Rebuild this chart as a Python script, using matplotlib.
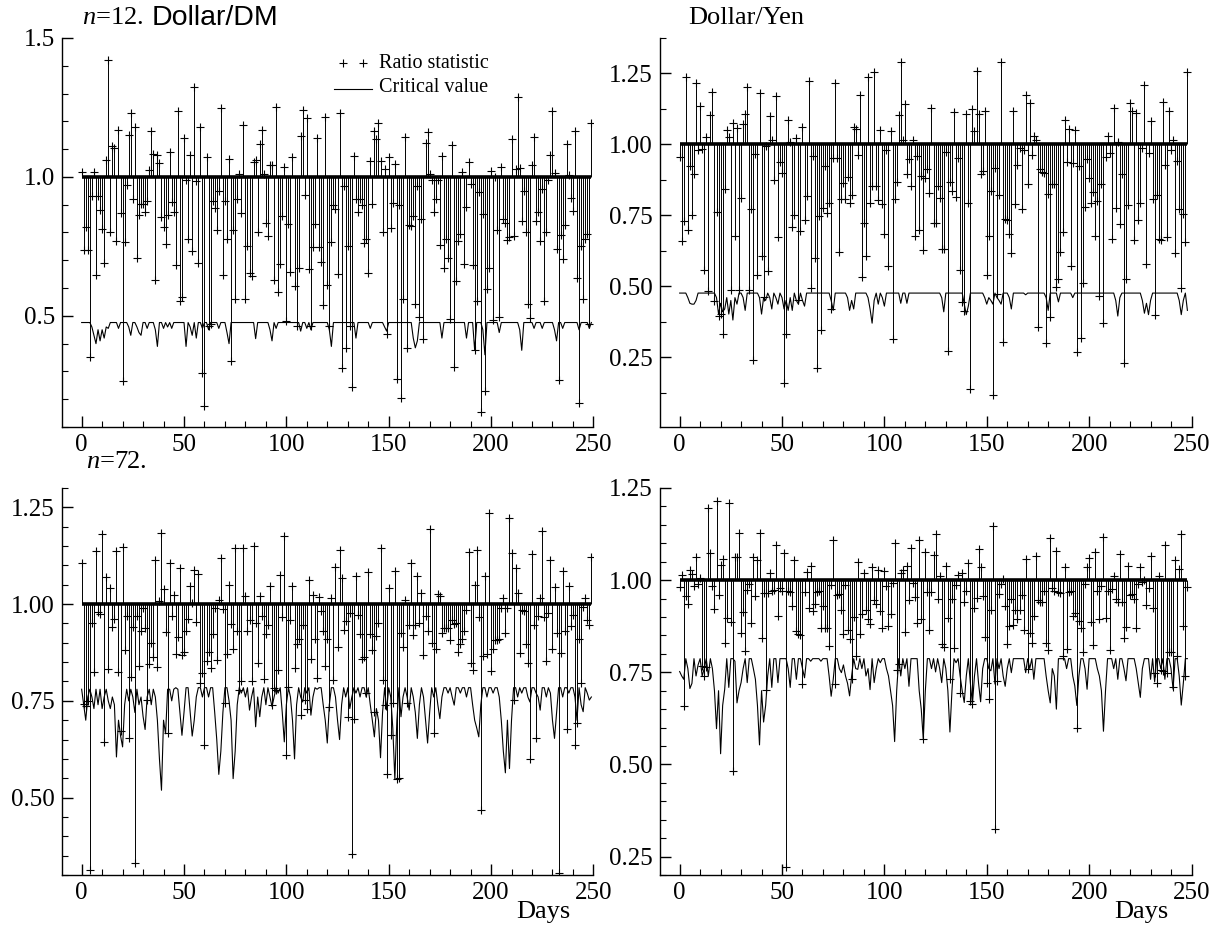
import numpy as np
import matplotlib
matplotlib.use('Agg')
import matplotlib.pyplot as plt
from matplotlib.ticker import MultipleLocator, FormatStrFormatter

plt.rcParams['font.family'] = ['Liberation Serif', 'DejaVu Serif']
plt.rcParams['mathtext.fontset'] = 'custom'
plt.rcParams['mathtext.it'] = 'Liberation Serif:italic'
plt.rcParams['mathtext.rm'] = 'Liberation Serif'

# ---------------- data ----------------
x_ticks = [0, 50, 100, 150, 200, 250]

ratio_dm_12 = [
    1.018, .736, .82, .736, .352, .932, 1.016, .646, .932, .88,
    .812, .692, 1.062, 1.422, .80, 1.11, 1.105, .77, 1.17, .87,
    .266, .766, .97, 1.15, 1.23, .92, 1.18, .71, .862, .904,
    .904, .874, .912, 1.024, 1.165, 1.084, .63, 1.078, 1.05, .854,
    .82, .757, .862, 1.088, .908, .874, .682, 1.236, .553, .568,
    1.14, .988, .776, 1.08, .733, 1.324, .984, .692, 1.18, .293,
    .175, 1.072, .463, .469, .912, .888, .808, .95, 1.248, .646,
    .914, .778, 1.066, .338, .808, .559, .92, 1.012, .87, 1.188,
    .559, .75, .655, .644, 1.054, 1.06, .80, 1.118, 1.168, 1.01,
    .835, .787, 1.042, 1.042, .628, 1.25, .586, .686, .86, 1.036,
    .482, .83, .658, 1.072, .607, .464, .674, 1.146, 1.24, .934,
    1.213, .668, .464, .748, .832, 1.14, .748, .694, .538, 1.216,
    .61, .463, .766, .90, .884, .65, 1.23, .314, .968, .383,
    .75, .464, .245, 1.077, .922, .874, .922, .898, .764, .776,
    .656, 1.058, .902, 1.164, 1.135, 1.194, 1.058, .80, 1.03, .436,
    1.07, .817, .906, 1.046, .272, .898, .203, .559, 1.144, .383,
    .828, .822, .859, .544, .966, .496, .85, .418, 1.122, 1.162,
    1.01, .99, .874, .922, .99, .754, 1.074, .674, .775, .71,
    .49, 1.114, .317, .626, .769, .793, 1.018, .686, .89, 1.052,
    .974, .682, .376, .554, .944, .155, .868, .23, .595, .674,
    1.022, .484, 1.0, .808, .496, 1.034, .847, .835, .772, .784,
    1.135, .788, 1.03, 1.288, 1.032, .842, .95, .80, .542, .494,
    1.044, 1.144, .84, .874, .77, .958, .554, .80, .988, 1.078,
    1.236, 1.014, .742, .269, .79, .703, .826, 1.118, 1.008, .924,
    .876, 1.165, .637, .188, .75, .562, .778, .793, .47, 1.194,
]
crit_dm_12 = [
    .476, .476, .476, .476, .476, .46, .43, .40, .45, .41,
    .45, .42, .46, .455, .476, .476, .476, .476, .455, .476,
    .476, .476, .476, .46, .43, .476, .476, .46, .44, .43,
    .476, .476, .455, .476, .476, .476, .45, .39, .476, .476,
    .455, .476, .46, .476, .455, .476, .476, .476, .476, .476,
    .476, .39, .476, .46, .43, .476, .42, .476, .476, .455,
    .476, .476, .45, .476, .476, .476, .476, .455, .476, .476,
    .476, .44, .40, .476, .476, .476, .476, .476, .476, .476,
    .476, .476, .476, .476, .476, .418, .476, .476, .476, .476,
    .476, .476, .45, .41, .476, .455, .476, .476, .476, .476,
    .476, .476, .476, .476, .476, .476, .476, .445, .476, .476,
    .455, .476, .45, .476, .476, .476, .476, .476, .476, .476,
    .476, .45, .39, .476, .476, .476, .476, .476, .476, .476,
    .476, .476, .476, .476, .42, .476, .476, .476, .476, .476,
    .476, .455, .476, .476, .476, .476, .476, .476, .46, .445,
    .476, .476, .476, .476, .476, .476, .476, .476, .476, .476,
    .476, .476, .42, .385, .41, .476, .476, .476, .476, .476,
    .476, .476, .476, .476, .476, .476, .42, .476, .476, .476,
    .476, .476, .476, .476, .476, .476, .476, .476, .42, .476,
    .476, .476, .376, .476, .476, .476, .45, .36, .476, .476,
    .476, .476, .476, .476, .44, .476, .476, .476, .476, .476,
    .476, .476, .476, .476, .45, .376, .476, .476, .476, .476,
    .476, .455, .476, .476, .476, .455, .476, .476, .476, .476,
    .476, .45, .41, .476, .476, .455, .476, .476, .476, .476,
    .476, .476, .476, .45, .476, .476, .476, .476, .455, .476,
]

ratio_yen_12 = [
    .954, .659, .729, 1.239, .699, .925, .75, .895, 1.216, .98,
    1.137, .983, .559, 1.027, .485, 1.104, 1.184, .449, .762, .396,
    .402, .331, .842, 1.051, 1.027, .487, 1.077, .676, 1.057, .487,
    .812, 1.071, 1.106, 1.202, .487, .774, .239, .965, .538, 1.18,
    .608, .463, .995, .553, 1.101, 1.015, .874, 1.169, .673, .939,
    .90, .16, .331, 1.086, 1.009, .709, .75, 1.021, .452, .695,
    1.062, .735, .818, 1.225, .494, .959, .60, .213, .746, .346,
    .777, .923, .758, .794, .42, .953, 1.218, .953, .62, .807,
    .864, .809, .886, .794, .821, 1.06, 1.054, .962, 1.175, .532,
    .724, .606, 1.237, .795, .854, 1.255, .854, .803, 1.051, .791,
    .683, .98, .573, 1.047, .314, .809, .866, 1.104, 1.29, 1.015,
    1.142, .894, .948, .853, 1.015, .677, .96, .699, .889, .629,
    .88, .915, .827, 1.13, .723, .723, .854, .811, .63, .632,
    .974, .272, .866, .835, 1.113, .815, .953, .558, .443, .413,
    1.106, .795, .137, 1.125, 1.047, 1.257, 1.106, .895, .906, 1.119,
    .538, .677, .836, .116, .917, .473, .821, 1.292, .302, .738,
    .735, .683, .617, 1.118, .791, .929, .989, .774, .98, 1.175,
    .86, 1.145, .962, 1.03, 1.015, .357, .912, .903, .90, .30,
    .824, .39, .862, .862, .496, .526, .62, .693, 1.086, .939,
    1.054, .573, .935, 1.051, .267, .923, .317, .512, .779, .95,
    .88, .795, .833, .677, .801, .467, .862, .37, .956, 1.03,
    .971, .667, 1.127, .776, 1.007, .72, .897, .229, .526, .785,
    1.145, 1.116, .664, 1.11, .732, .794, .986, 1.21, .579, .971,
    1.084, .809, .40, .821, .667, .662, 1.151, .927, .673, 1.116,
    .982, 1.015, .617, .942, .771, .494, .756, .656, 1.255,
]
crit_yen_12 = [
    .476, .476, .476, .476, .46, .44, .437, .437, .45, .476,
    .476, .476, .476, .476, .476, .476, .476, .476, .46, .402,
    .44, .41, .42, .46, .402, .45, .381, .46, .437, .476,
    .476, .46, .415, .476, .476, .476, .476, .476, .476, .46,
    .402, .46, .45, .476, .46, .42, .476, .46, .437, .476,
    .46, .42, .45, .415, .46, .415, .476, .45, .437, .476,
    .45, .43, .476, .476, .476, .476, .476, .476, .476, .476,
    .476, .476, .476, .476, .45, .415, .476, .476, .476, .476,
    .476, .476, .46, .415, .45, .42, .476, .476, .476, .476,
    .476, .476, .46, .42, .37, .45, .476, .437, .476, .46,
    .43, .476, .476, .476, .476, .476, .476, .476, .44, .476,
    .476, .44, .476, .476, .476, .476, .476, .476, .476, .476,
    .476, .476, .476, .476, .476, .476, .476, .476, .46, .41,
    .476, .476, .476, .476, .476, .476, .476, .476, .476, .437,
    .40, .43, .476, .476, .476, .476, .476, .476, .476, .46,
    .437, .46, .45, .437, .476, .46, .45, .437, .476, .476,
    .476, .46, .42, .476, .476, .476, .476, .476, .476, .47,
    .476, .476, .476, .476, .476, .476, .476, .476, .476, .46,
    .415, .476, .476, .476, .476, .445, .476, .476, .476, .476,
    .476, .476, .46, .476, .476, .476, .476, .476, .476, .476,
    .476, .476, .476, .476, .476, .476, .476, .476, .476, .476,
    .476, .476, .476, .45, .395, .46, .476, .476, .476, .476,
    .476, .476, .476, .476, .476, .476, .45, .405, .44, .40,
    .45, .476, .476, .476, .476, .476, .476, .476, .476, .476,
    .476, .476, .476, .476, .45, .40, .45, .476, .415,
]

ratio_dm_72 = [
    1.107, .741, .736, .75, .314, .95, .825, 1.137, .98, .974,
    1.181, .644, 1.071, .832, 1.041, .941, .961, 1.137, .825, .672,
    1.148, .881, .97, .653, .812, .941, .332, .969, .841, .931,
    .99, .937, .753, .844, .90, .864, 1.114, .838, 1.009, 1.184,
    1.038, .928, .667, 1.107, .97, 1.023, .872, .916, 1.092, .868,
    .875, .93, .961, 1.047, 1.003, 1.088, .954, 1.079, .797, .823,
    .635, .853, .877, .834, .924, .989, .855, 1.01, 1.12, .987,
    .745, .872, 1.049, .948, .885, 1.144, .93, .778, .80, 1.144,
    1.021, .93, .96, .80, 1.15, .95, .849, 1.021, .97, .806,
    .924, .947, 1.047, .739, .784, .778, .829, 1.075, .967, 1.176,
    .609, .786, .96, 1.047, .835, .896, .911, .713, .947, .753,
    .73, 1.062, .859, 1.023, .911, .809, 1.019, .982, .93, .841,
    .911, .734, 1.016, .803, 1.095, .89, 1.14, 1.068, .934, .957,
    .709, .978, .355, .704, 1.072, .972, .924, .857, .864, .769,
    1.084, .922, .881, .722, .917, .95, 1.146, .805, .739, .562,
    1.041, .661, .745, 1.085, .549, .55, .926, .888, 1.01, .745,
    .946, 1.107, .92, .946, 1.073, .95, 1.028, .868, .97, .931,
    1.193, .90, .667, .883, 1.025, 1.021, .926, .937, .937, .937,
    .907, .96, .948, .952, .875, .898, .909, .931, .984, 1.135,
    .848, .831, 1.049, 1.141, .966, .469, .866, 1.072, .87, 1.236,
    .828, .884, .907, .907, .911, .989, 1.016, .926, .99, 1.222,
    1.131, .752, 1.092, 1.029, .874, .984, .983, .897, .848, .601,
    1.129, .947, .653, .97, 1.016, 1.189, .967, .853, .978, 1.114,
    .885, 1.043, .926, .305, .874, 1.085, .931, .678, 1.047, .944,
    .972, .635, .693, .909, .795, .993, 1.016, .96, .947, 1.121,
]
crit_dm_72 = [
    .78, .74, .70, .76, .78, .76, .73, .78, .74, .78,
    .73, .76, .78, .75, .73, .76, .74, .605, .70, .66,
    .631, .74, .78, .75, .78, .76, .72, .78, .74, .76,
    .71, .676, .76, .78, .74, .78, .76, .70, .60, .519,
    .70, .665, .78, .78, .75, .78, .784, .78, .72, .661,
    .72, .784, .784, .72, .659, .70, .76, .784, .784, .76,
    .784, .784, .76, .784, .784, .72, .65, .56, .62, .72,
    .784, .784, .75, .70, .549, .62, .74, .784, .77, .784,
    .76, .784, .726, .76, .784, .683, .76, .709, .76, .784,
    .74, .784, .76, .735, .76, .784, .77, .784, .72, .644,
    .74, .784, .76, .70, .60, .74, .784, .76, .747, .784,
    .77, .784, .713, .76, .784, .78, .784, .784, .74, .70,
    .641, .74, .784, .784, .76, .70, .65, .74, .784, .76,
    .784, .73, .76, .784, .77, .784, .76, .784, .784, .76,
    .784, .74, .70, .657, .73, .70, .603, .72, .784, .726,
    .784, .76, .68, .547, .70, .784, .709, .76, .784, .76,
    .726, .784, .76, .72, .653, .74, .784, .76, .70, .641,
    .72, .784, .76, .784, .74, .704, .76, .784, .784, .77,
    .784, .76, .739, .784, .784, .77, .784, .784, .76, .784,
    .784, .74, .70, .68, .657, .74, .784, .784, .76, .784,
    .784, .77, .784, .784, .76, .70, .62, .564, .70, .575,
    .70, .784, .784, .76, .784, .77, .784, .784, .76, .747,
    .784, .784, .77, .76, .726, .784, .784, .76, .784, .77,
    .70, .653, .72, .784, .784, .76, .784, .784, .77, .784,
    .784, .76, .70, .784, .74, .722, .784, .77, .752, .76,
]

ratio_yen_72 = [
    .981, 1.014, .659, .958, .935, 1.028, 1.017, .985, 1.062, .99,
    1.005, .767, .74, .763, 1.197, 1.073, .985, .922, 1.214, .96,
    1.041, 1.058, .83, .898, 1.209, .886, .482, 1.064, 1.064, 1.128,
    .857, .914, .808, .974, .99, .884, 1.064, .958, 1.055, 1.128,
    .844, .965, .703, .965, 1.019, .97, .974, 1.095, .904, .98,
    .971, 1.073, .221, .97, .969, .929, 1.055, .862, .853, .85,
    .718, .968, 1.022, .925, 1.039, .916, .936, .967, .97, .871,
    .93, .871, .871, .821, .987, 1.109, .718, .96, .963, .92,
    .855, .987, .864, .839, .731, .90, .794, 1.05, .853, .909,
    1.019, .92, .895, .88, 1.035, .947, .936, 1.028, .916, .871,
    1.025, .983, .875, .909, .992, 1.10, .757, .772, 1.019, 1.028,
    .859, 1.039, .945, 1.086, .992, .954, .884, 1.109, .895, .568,
    1.077, .967, .866, .967, 1.068, 1.125, .949, 1.01, .827, .819,
    1.039, .898, .731, .95, .817, .987, 1.014, .693, 1.019, .942,
    .971, 1.046, .671, .664, .925, .951, 1.084, 1.037, .958, .845,
    .721, .677, .92, 1.147, .324, .727, .962, .99, 1.004, .929,
    .826, .875, .95, .877, .918, .895, .92, .959, .864, 1.057,
    .76, .857, .83, .902, 1.066, .947, .942, .94, .97, .83,
    .81, 1.113, .978, .97, 1.08, .969, .965, .794, 1.035, .814,
    .969, .97, .904, .911, .598, .89, .869, .805, .99, 1.035,
    1.059, .886, .824, 1.077, .971, .895, .983, 1.118, .896, .971,
    .81, .976, 1.01, .949, .94, 1.071, .942, .842, .872, 1.039,
    .96, .962, .95, .871, .99, 1.037, .994, 1.0, .932, .98,
    1.066, .925, .747, .72, 1.01, .756, .754, 1.095, .749, .805,
    .805, .709, 1.055, .794, 1.03, 1.124, .875, .74, .981,
]
crit_yen_72 = [
    .752, .74, .731, .787, .76, .706, .72, .787, .74, .77,
    .787, .74, .76, .787, .74, .787, .76, .70, .597, .70,
    .529, .66, .704, .787, .709, .787, .787, .78, .667, .70,
    .722, .76, .787, .722, .787, .787, .76, .731, .66, .553,
    .70, .615, .66, .74, .787, .709, .787, .787, .722, .787,
    .787, .787, .787, .76, .709, .787, .787, .731, .787, .787,
    .76, .735, .787, .787, .78, .787, .787, .787, .787, .78,
    .787, .787, .787, .74, .685, .73, .787, .787, .76, .749,
    .77, .74, .72, .686, .74, .787, .76, .758, .787, .76,
    .787, .74, .76, .703, .787, .722, .76, .787, .776, .787,
    .787, .76, .74, .70, .66, .562, .70, .787, .74, .787,
    .76, .787, .712, .787, .787, .787, .787, .70, .65, .568,
    .70, .787, .787, .76, .787, .751, .787, .76, .722, .787,
    .76, .70, .588, .70, .787, .776, .787, .74, .70, .668,
    .74, .787, .72, .664, .74, .787, .72, .67, .76, .787,
    .787, .76, .754, .787, .718, .787, .76, .787, .74, .712,
    .76, .787, .749, .787, .787, .787, .787, .787, .787, .749,
    .787, .76, .787, .731, .787, .787, .787, .787, .787, .74,
    .70, .667, .76, .74, .65, .787, .787, .787, .787, .76,
    .787, .787, .74, .713, .66, .74, .787, .787, .76, .704,
    .787, .787, .787, .787, .76, .74, .70, .59, .70, .787,
    .787, .787, .76, .787, .731, .787, .787, .76, .727, .787,
    .787, .787, .787, .76, .72, .682, .76, .787, .787, .787,
    .731, .787, .724, .787, .787, .76, .787, .731, .787, .787,
    .76, .704, .787, .787, .74, .661, .72, .787, .787,
]

legend_labels = ['Ratio statistic', 'Critical value']

# ---------------- figure ----------------
W, H = 1218, 926
fig = plt.figure(figsize=(W / 100, H / 100), dpi=100)

def frac_box(l, t, r, b):
    return [l / W, 1 - b / H, (r - l) / W, (b - t) / H]

def fx(px):
    return px / W

def fy(py):
    return 1 - py / H

FS = 18

def draw(ax, ratio, crit, ylim, major, minor, fmt):
    x = np.arange(len(ratio))
    ax.vlines(x, 1.0, ratio, colors='k', lw=0.7)
    ax.plot(x, ratio, '+', color='k', ms=6, mew=0.8)
    ax.plot(np.arange(len(crit)), crit, '-', color='k', lw=0.8)
    ax.plot([x[0], x[-1]], [1.0, 1.0], '-', color='k', lw=2.6, solid_capstyle='butt')
    ax.set_xlim(-9.6, 250)
    ax.set_ylim(*ylim)
    ax.set_xticks(x_ticks)
    ax.xaxis.set_minor_locator(MultipleLocator(10))
    ax.yaxis.set_major_locator(MultipleLocator(major))
    ax.yaxis.set_minor_locator(MultipleLocator(minor))
    ax.yaxis.set_major_formatter(FormatStrFormatter(fmt))
    for s in ('top', 'right'):
        ax.spines[s].set_visible(False)
    for s in ('left', 'bottom'):
        ax.spines[s].set_linewidth(1.0)
    ax.tick_params(which='major', direction='in', length=8, width=1.0,
                   labelsize=FS, pad=5)
    ax.tick_params(which='minor', direction='in', length=4, width=0.8)

ax1 = fig.add_axes(frac_box(62, 38, 593.4, 427))
draw(ax1, ratio_dm_12, crit_dm_12, (0.1, 1.5), 0.5, 0.1, '%.1f')
ax2 = fig.add_axes(frac_box(660, 38, 1191.5, 427))
draw(ax2, ratio_yen_12, crit_yen_12, (0.004, 1.375), 0.25, 0.125, '%.2f')
ax3 = fig.add_axes(frac_box(62, 488, 593.4, 875))
draw(ax3, ratio_dm_72, crit_dm_72, (0.3, 1.3), 0.25, 0.05, '%.2f')
ax4 = fig.add_axes(frac_box(660, 488, 1191.5, 875))
draw(ax4, ratio_yen_72, crit_yen_72, (0.2, 1.25), 0.25, 0.05, '%.2f')

# legend drawn by hand (two close '+' markers, then a short line)
LFS = 14.5
fig.add_artist(plt.Line2D([fx(343), fx(363)], [fy(63), fy(63)], ls='none',
                          marker='+', color='k', ms=6, mew=0.8,
                          transform=fig.transFigure))
fig.add_artist(plt.Line2D([fx(334), fx(372)], [fy(89), fy(89)], color='k',
                          lw=0.8, transform=fig.transFigure))
fig.text(fx(379), fy(63), legend_labels[0], fontsize=LFS, va='center', ha='left')
fig.text(fx(379), fy(87), legend_labels[1], fontsize=LFS, va='center', ha='left')

TS = 19
fig.text(fx(82), fy(18), r'$n$=12.', fontsize=TS, va='center', ha='left')
fig.text(fx(152), fy(18), 'Dollar/DM', fontsize=20.5, va='center', ha='left',
         family=['Liberation Sans', 'DejaVu Sans'])
fig.text(fx(688), fy(18), 'Dollar/Yen', fontsize=TS, va='center', ha='left')
fig.text(fx(86), fy(462), r'$n$=72.', fontsize=TS, va='center', ha='left')
fig.text(fx(543), fy(912), 'Days', fontsize=TS, va='center', ha='center')
fig.text(fx(1141), fy(912), 'Days', fontsize=TS, va='center', ha='center')

fig.savefig('out.png', dpi=100)
